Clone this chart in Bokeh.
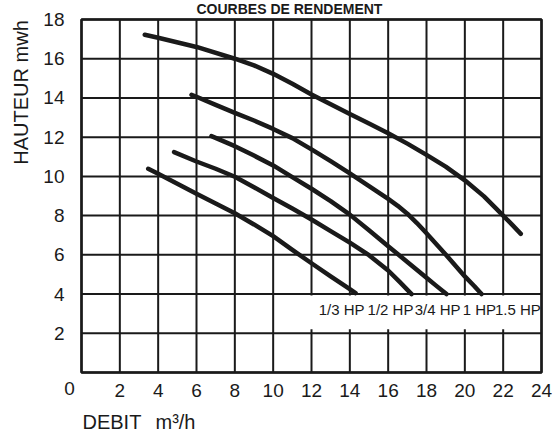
import math
from bokeh.plotting import figure
from bokeh.models import Range1d, FixedTicker, Label
from bokeh.core.properties import value
from bokeh.embed import file_html
from bokeh.resources import INLINE

# ---- data ----
x_ticks = [0, 2, 4, 6, 8, 10, 12, 14, 16, 18, 20, 22, 24]
y_ticks = [0, 2, 4, 6, 8, 10, 12, 14, 16, 18]

hp_names = ["1/3 HP", "1/2 HP", "3/4 HP", "1 HP", "1.5 HP"]

debit_1_3 = [3.48, 4, 5, 6, 7, 8, 9, 10, 11, 12, 13, 14, 14.3]
haut_1_3 = [10.39, 10.13, 9.62, 9.11, 8.62, 8.12, 7.55, 6.95, 6.25, 5.57, 4.9, 4.25, 4.05]

debit_1_2 = [4.83, 6, 7, 8, 9, 10, 11, 12, 13, 14, 15, 16, 16.6, 17.22]
haut_1_2 = [11.24, 10.76, 10.39, 9.98, 9.45, 8.9, 8.36, 7.8, 7.21, 6.62, 5.98, 5.2, 4.62, 4.0]

debit_3_4 = [6.78, 8, 9, 10, 11, 12, 13, 14, 15, 16, 17, 18, 18.5, 19.04]
haut_3_4 = [12.05, 11.54, 11.06, 10.56, 9.96, 9.37, 8.74, 8.05, 7.25, 6.44, 5.64, 4.83, 4.43, 4.0]

debit_1 = [5.74, 6, 7, 8, 9, 10, 11, 12, 13, 14, 15, 16, 16.5, 17, 17.5, 18, 19, 20,
           20.5, 20.87]
haut_1 = [14.16, 14.06, 13.65, 13.24, 12.85, 12.42, 11.95, 11.38, 10.78, 10.15, 9.5, 8.85,
          8.5, 8.1, 7.62, 7.1, 6.02, 4.9, 4.4, 4.0]

debit_15 = [3.3, 4, 6, 8, 9, 10, 11, 12, 13, 14, 15, 16, 17, 18, 19, 20, 21, 22, 22.5, 22.92]
haut_15 = [17.22, 17.07, 16.6, 16.0, 15.66, 15.23, 14.72, 14.18, 13.68, 13.18, 12.7, 12.2,
           11.67, 11.1, 10.5, 9.8, 8.98, 8.0, 7.5, 7.07]

curves = [(debit_1_3, haut_1_3), (debit_1_2, haut_1_2), (debit_3_4, haut_3_4),
          (debit_1, haut_1), (debit_15, haut_15)]

hp_label_x = [13.57, 16.12, 18.58, 20.76, 22.77]
hp_label_y = 3.21
label_band = dict(left=10.9, right=23.93, bottom=2.2, top=3.93)

INK = "#1a1a1a"
FONT = "Liberation Sans"

x0, x1 = x_ticks[0], x_ticks[-1]
y0, y1 = y_ticks[0], y_ticks[-1]

# visible window extends beyond the grid so that all texts sit inside the frame
p = figure(width=555, height=432, output_backend="svg", toolbar_location=None,
           x_range=Range1d(-4.226, 24.730), y_range=Range1d(-3.0595, 18.969), title=None,
           min_border=0, min_border_left=0, min_border_right=0,
           min_border_top=0, min_border_bottom=0)
p.background_fill_color = "white"
p.border_fill_color = "white"
p.outline_line_color = None
p.xgrid.visible = False
p.ygrid.visible = False

p.xaxis.ticker = FixedTicker(ticks=x_ticks)
p.yaxis.ticker = FixedTicker(ticks=y_ticks)
p.xaxis.fixed_location = y0
p.yaxis.fixed_location = x0
for ax, so in ((p.xaxis, 5), (p.yaxis, 11)):
    ax.axis_line_color = None
    ax.major_tick_line_color = None
    ax.minor_tick_line_color = None
    ax.major_label_text_font = FONT
    ax.major_label_text_font_size = "19px"
    ax.major_label_text_color = INK
    ax.major_label_standoff = so
    ax.major_label_overrides = {0: ""}

# grid drawn from the tick lists
p.segment(x0=x_ticks, y0=[y0] * len(x_ticks), x1=x_ticks, y1=[y1] * len(x_ticks),
          line_color=INK, line_width=2)
p.segment(x0=[x0] * len(y_ticks), y0=y_ticks, x1=[x1] * len(y_ticks), y1=y_ticks,
          line_color=INK, line_width=2)

# white band behind the HP labels
p.quad(left=[label_band["left"]], right=[label_band["right"]],
       bottom=[label_band["bottom"]], top=[label_band["top"]],
       fill_color="white", line_color=None)

for xs, ys in curves:
    p.line(xs, ys, line_width=4.5, line_color=INK, line_cap="round", line_join="round")

# frame
p.quad(left=[x0], right=[x1], bottom=[y0], top=[y1], fill_color=None,
       line_color=INK, line_width=2.5)

p.text(x=hp_label_x, y=[hp_label_y] * len(hp_names), text=hp_names,
       text_font=value(FONT), text_font_size=value("15px"),
       text_align="center", text_baseline="middle", text_color=INK)

p.add_layout(Label(x=-3.18, y=14.28, text="HAUTEUR mwh", angle=math.pi / 2,
                   text_align="center", text_baseline="middle",
                   text_font=FONT, text_font_size="20px", text_color=INK))
p.add_layout(Label(x=-0.63, y=-0.82, text="0", text_align="center", text_baseline="middle",
                   text_font=FONT, text_font_size="19px", text_color=INK))
p.add_layout(Label(x=0.05, y=-2.5, text="DEBIT", text_align="left", text_baseline="middle",
                   text_font=FONT, text_font_size="20px", text_color=INK))
p.add_layout(Label(x=3.86, y=-2.5, text="m³/h", text_align="left", text_baseline="middle",
                   text_font=FONT, text_font_size="20px", text_color=INK))
p.add_layout(Label(x=10.85, y=18.153, text="COURBES DE RENDEMENT", text_align="center",
                   text_baseline="bottom", text_font=FONT, text_font_style="bold",
                   text_font_size="14px", text_color=INK))

open("out.html", "w").write(file_html(p, INLINE))
